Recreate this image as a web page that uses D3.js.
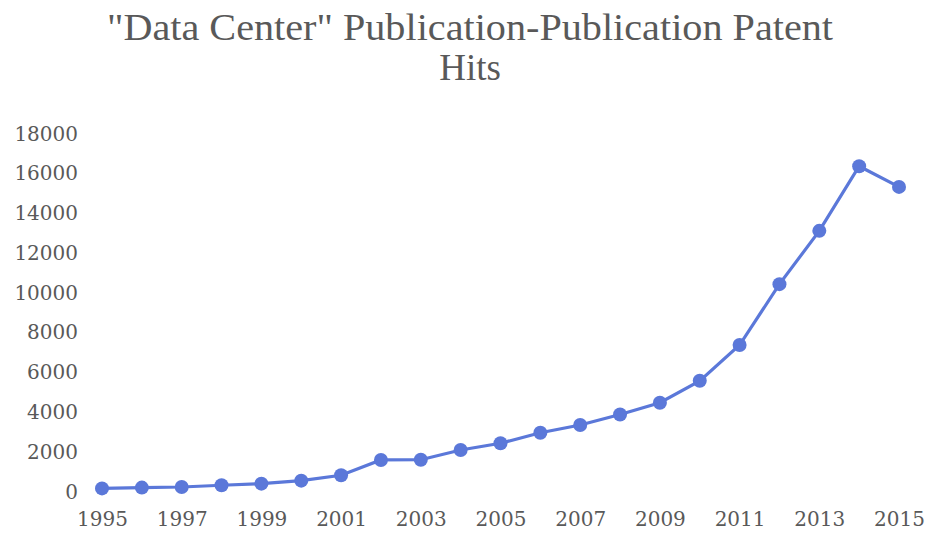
<!DOCTYPE html>
<html>
<head>
<meta charset="utf-8">
<script src="https://cdn.jsdelivr.net/npm/d3@7"></script>
<style>
  body { margin: 0; background: #fff; }
  .axis text { font-family: "DejaVu Serif", serif; font-size: 20px; fill: #595959; }
  .axis path, .axis line { display: none; }
  .title { font-family: "Liberation Serif", serif; font-size: 37px; fill: #595959; }
</style>
</head>
<body>
<script>
var width = 928;
var height = 534;

// data
var years = [1995, 1996, 1997, 1998, 1999, 2000, 2001, 2002, 2003, 2004,
             2005, 2006, 2007, 2008, 2009, 2010, 2011, 2012, 2013, 2014, 2015];
var hits = [130, 170, 200, 290, 370, 520, 790, 1560, 1570, 2060,
            2400, 2930, 3320, 3850, 4440, 5540, 7340, 10400, 13080, 16330, 15290];
var yTicks = [0, 2000, 4000, 6000, 8000, 10000, 12000, 14000, 16000, 18000];
var xTicks = [1995, 1997, 1999, 2001, 2003, 2005, 2007, 2009, 2011, 2013, 2015];
var titleLines = ['"Data Center" Publication-Publication Patent', 'Hits'];

var svg = d3.select("body").append("svg")
    .attr("width", width)
    .attr("height", height);

// scales
var x = d3.scaleLinear().domain([1995, 2015]).range([102, 899]);
var y = d3.scaleLinear().domain([0, 18000]).range([491, 133]);

// title
svg.selectAll(".title")
    .data(titleLines)
    .enter()
    .append("text")
    .attr("class", "title")
    .attr("x", 470)
    .attr("y", function(d, i) { return 40 + i * 40; })
    .attr("text-anchor", "middle")
    .attr("textLength", function(d, i) { return i === 0 ? 726 : null; })
    .attr("lengthAdjust", "spacingAndGlyphs")
    .text(function(d) { return d; });

// axes
svg.append("g")
    .attr("class", "axis")
    .attr("transform", "translate(86,0)")
    .call(d3.axisLeft(y).tickValues(yTicks).tickSize(0).tickPadding(8).tickFormat(d3.format("d")))
    .selectAll("text").attr("dy", "0.35em");

svg.append("g")
    .attr("class", "axis")
    .attr("transform", "translate(0,508)")
    .call(d3.axisBottom(x).tickValues(xTicks).tickSize(0).tickPadding(4).tickFormat(d3.format("d")));

// line + markers
var color = "#5b78d9";
var line = d3.line()
    .x(function(d, i) { return x(years[i]); })
    .y(function(d) { return y(d); });

svg.append("path")
    .datum(hits)
    .attr("fill", "none")
    .attr("stroke", color)
    .attr("stroke-width", 3.2)
    .attr("d", line);

svg.selectAll(".dot")
    .data(hits)
    .enter()
    .append("circle")
    .attr("class", "dot")
    .attr("cx", function(d, i) { return x(years[i]); })
    .attr("cy", function(d) { return y(d); })
    .attr("r", 7)
    .attr("fill", color);
</script>
</body>
</html>
